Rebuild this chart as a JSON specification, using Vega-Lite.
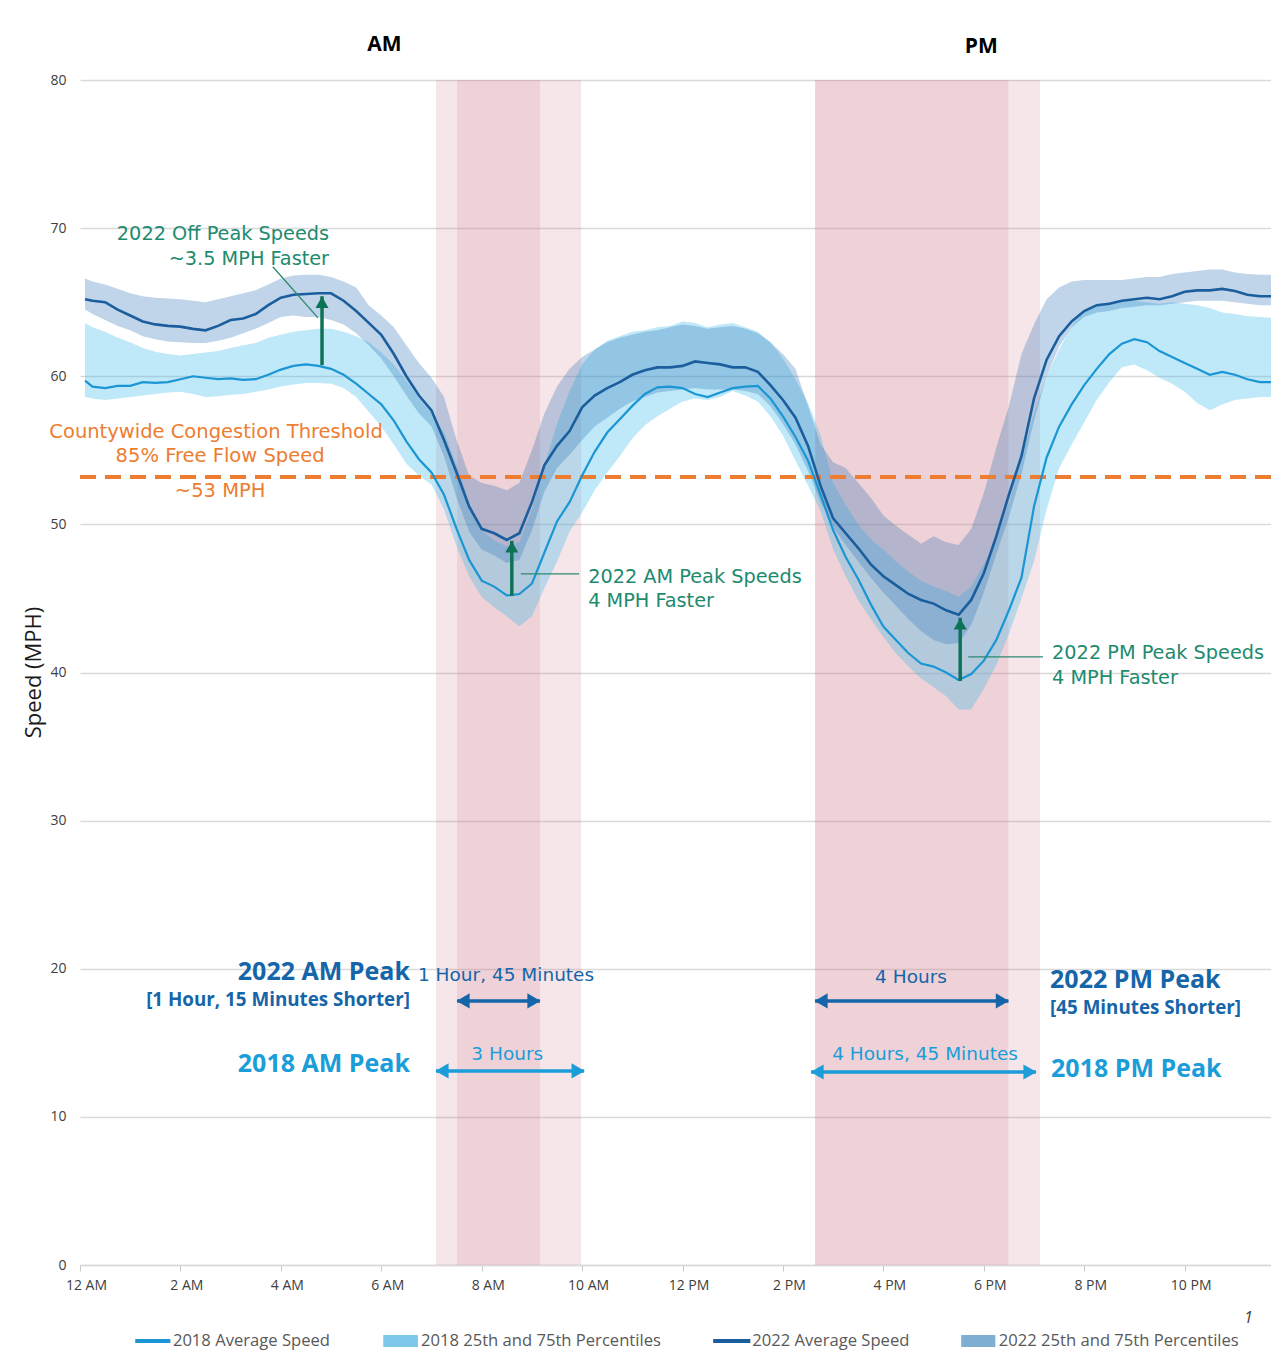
{
  "$schema": "https://vega.github.io/schema/vega-lite/v6.json",
  "width": 1191,
  "height": 1185,
  "autosize": {"type": "none"},
  "padding": {"left": 80, "top": 80, "right": 0, "bottom": 91},
  "background": "white",
  "config": {"view": {"stroke": null}, "font": "Open Sans"},
  "datasets": {
    "speed": [
      {"h":0.1,"a18":59.7,"l18":58.6,"u18":63.6,"a22":65.2,"l22":64.5,"u22":66.6},
      {"h":0.25,"a18":59.3,"l18":58.5,"u18":63.3,"a22":65.1,"l22":64.2,"u22":66.4},
      {"h":0.5,"a18":59.2,"l18":58.4,"u18":63.0,"a22":65.0,"l22":63.8,"u22":66.2},
      {"h":0.75,"a18":59.35,"l18":58.5,"u18":62.6,"a22":64.5,"l22":63.4,"u22":65.9},
      {"h":1,"a18":59.35,"l18":58.6,"u18":62.3,"a22":64.1,"l22":63.1,"u22":65.6},
      {"h":1.25,"a18":59.6,"l18":58.7,"u18":61.9,"a22":63.7,"l22":62.7,"u22":65.4},
      {"h":1.5,"a18":59.55,"l18":58.8,"u18":61.65,"a22":63.5,"l22":62.5,"u22":65.3},
      {"h":1.75,"a18":59.6,"l18":58.9,"u18":61.5,"a22":63.4,"l22":62.35,"u22":65.25},
      {"h":2,"a18":59.8,"l18":58.95,"u18":61.4,"a22":63.35,"l22":62.3,"u22":65.2},
      {"h":2.25,"a18":60.0,"l18":58.8,"u18":61.5,"a22":63.2,"l22":62.25,"u22":65.1},
      {"h":2.5,"a18":59.9,"l18":58.6,"u18":61.6,"a22":63.1,"l22":62.25,"u22":65.0},
      {"h":2.75,"a18":59.8,"l18":58.65,"u18":61.7,"a22":63.4,"l22":62.4,"u22":65.2},
      {"h":3,"a18":59.85,"l18":58.75,"u18":61.9,"a22":63.8,"l22":62.6,"u22":65.4},
      {"h":3.25,"a18":59.75,"l18":58.8,"u18":62.1,"a22":63.9,"l22":62.9,"u22":65.6},
      {"h":3.5,"a18":59.8,"l18":58.95,"u18":62.25,"a22":64.2,"l22":63.2,"u22":65.8},
      {"h":3.75,"a18":60.1,"l18":59.1,"u18":62.6,"a22":64.8,"l22":63.6,"u22":66.2},
      {"h":4,"a18":60.45,"l18":59.3,"u18":62.8,"a22":65.3,"l22":64.0,"u22":66.6},
      {"h":4.25,"a18":60.7,"l18":59.45,"u18":63.0,"a22":65.5,"l22":64.1,"u22":66.8},
      {"h":4.5,"a18":60.8,"l18":59.55,"u18":63.1,"a22":65.55,"l22":64.0,"u22":66.85},
      {"h":4.75,"a18":60.7,"l18":59.55,"u18":63.2,"a22":65.6,"l22":64.0,"u22":66.85},
      {"h":5,"a18":60.5,"l18":59.5,"u18":63.2,"a22":65.6,"l22":63.8,"u22":66.7},
      {"h":5.25,"a18":60.1,"l18":59.2,"u18":63.0,"a22":65.1,"l22":63.5,"u22":66.4},
      {"h":5.5,"a18":59.5,"l18":58.6,"u18":62.7,"a22":64.4,"l22":62.9,"u22":66.0},
      {"h":5.75,"a18":58.8,"l18":57.6,"u18":62.3,"a22":63.6,"l22":62.1,"u22":64.8},
      {"h":6,"a18":58.1,"l18":56.6,"u18":61.6,"a22":62.8,"l22":61.2,"u22":64.1},
      {"h":6.25,"a18":57.0,"l18":55.4,"u18":60.8,"a22":61.5,"l22":60.0,"u22":63.3},
      {"h":6.5,"a18":55.6,"l18":54.1,"u18":59.7,"a22":60.0,"l22":58.7,"u22":62.1},
      {"h":6.75,"a18":54.4,"l18":53.3,"u18":58.5,"a22":58.7,"l22":57.5,"u22":60.9},
      {"h":7,"a18":53.5,"l18":52.7,"u18":57.5,"a22":57.7,"l22":56.6,"u22":59.9},
      {"h":7.25,"a18":52.0,"l18":51.0,"u18":56.2,"a22":55.7,"l22":54.6,"u22":58.6},
      {"h":7.5,"a18":49.7,"l18":48.5,"u18":54.0,"a22":53.5,"l22":51.8,"u22":55.7},
      {"h":7.75,"a18":47.6,"l18":46.5,"u18":51.5,"a22":51.2,"l22":49.5,"u22":53.3},
      {"h":8,"a18":46.2,"l18":45.1,"u18":49.6,"a22":49.7,"l22":48.3,"u22":52.8},
      {"h":8.25,"a18":45.8,"l18":44.4,"u18":48.9,"a22":49.4,"l22":47.9,"u22":52.6},
      {"h":8.5,"a18":45.2,"l18":43.8,"u18":48.5,"a22":48.95,"l22":47.4,"u22":52.3},
      {"h":8.75,"a18":45.3,"l18":43.1,"u18":48.8,"a22":49.4,"l22":47.6,"u22":52.8},
      {"h":9,"a18":46.0,"l18":43.8,"u18":51.0,"a22":51.5,"l22":49.6,"u22":55.0},
      {"h":9.25,"a18":48.1,"l18":45.7,"u18":54.0,"a22":54.0,"l22":52.2,"u22":57.5},
      {"h":9.5,"a18":50.2,"l18":47.5,"u18":56.8,"a22":55.3,"l22":53.8,"u22":59.3},
      {"h":9.75,"a18":51.5,"l18":49.5,"u18":59.0,"a22":56.3,"l22":54.7,"u22":60.5},
      {"h":10,"a18":53.3,"l18":50.8,"u18":60.8,"a22":57.9,"l22":55.7,"u22":61.3},
      {"h":10.25,"a18":54.9,"l18":52.3,"u18":61.8,"a22":58.7,"l22":56.6,"u22":61.8},
      {"h":10.5,"a18":56.2,"l18":53.5,"u18":62.4,"a22":59.2,"l22":57.2,"u22":62.3},
      {"h":10.75,"a18":57.1,"l18":54.6,"u18":62.7,"a22":59.6,"l22":57.8,"u22":62.6},
      {"h":11,"a18":58.0,"l18":55.8,"u18":63.0,"a22":60.1,"l22":58.3,"u22":62.8},
      {"h":11.25,"a18":58.8,"l18":56.7,"u18":63.1,"a22":60.4,"l22":58.6,"u22":63.0},
      {"h":11.5,"a18":59.25,"l18":57.3,"u18":63.3,"a22":60.6,"l22":58.9,"u22":63.1},
      {"h":11.75,"a18":59.3,"l18":57.8,"u18":63.4,"a22":60.6,"l22":59.0,"u22":63.3},
      {"h":12,"a18":59.2,"l18":58.3,"u18":63.7,"a22":60.7,"l22":59.1,"u22":63.5},
      {"h":12.25,"a18":58.8,"l18":58.5,"u18":63.6,"a22":61.0,"l22":59.2,"u22":63.4},
      {"h":12.5,"a18":58.6,"l18":58.4,"u18":63.3,"a22":60.9,"l22":59.1,"u22":63.2},
      {"h":12.75,"a18":58.9,"l18":58.6,"u18":63.5,"a22":60.8,"l22":59.1,"u22":63.3},
      {"h":13,"a18":59.2,"l18":59.0,"u18":63.6,"a22":60.6,"l22":59.1,"u22":63.4},
      {"h":13.25,"a18":59.3,"l18":58.7,"u18":63.3,"a22":60.6,"l22":59.0,"u22":63.2},
      {"h":13.5,"a18":59.35,"l18":58.3,"u18":63.0,"a22":60.3,"l22":58.8,"u22":62.9},
      {"h":13.75,"a18":58.5,"l18":57.3,"u18":62.3,"a22":59.4,"l22":58.0,"u22":62.3},
      {"h":14,"a18":57.3,"l18":56.0,"u18":61.2,"a22":58.4,"l22":56.8,"u22":61.5},
      {"h":14.25,"a18":55.9,"l18":54.3,"u18":59.8,"a22":57.2,"l22":55.4,"u22":60.5},
      {"h":14.5,"a18":54.3,"l18":52.6,"u18":58.2,"a22":55.3,"l22":53.6,"u22":58.0},
      {"h":14.75,"a18":52.0,"l18":50.9,"u18":56.0,"a22":52.6,"l22":51.5,"u22":55.4},
      {"h":15,"a18":49.6,"l18":48.3,"u18":52.8,"a22":50.4,"l22":49.8,"u22":54.2},
      {"h":15.25,"a18":47.8,"l18":46.5,"u18":51.3,"a22":49.4,"l22":48.6,"u22":53.8},
      {"h":15.5,"a18":46.3,"l18":44.9,"u18":50.0,"a22":48.4,"l22":47.5,"u22":52.8},
      {"h":15.75,"a18":44.6,"l18":43.6,"u18":49.0,"a22":47.3,"l22":46.4,"u22":51.8},
      {"h":16,"a18":43.1,"l18":42.4,"u18":48.3,"a22":46.5,"l22":45.4,"u22":50.6},
      {"h":16.25,"a18":42.2,"l18":41.3,"u18":47.5,"a22":45.9,"l22":44.5,"u22":49.9},
      {"h":16.5,"a18":41.3,"l18":40.4,"u18":46.8,"a22":45.3,"l22":43.6,"u22":49.3},
      {"h":16.75,"a18":40.6,"l18":39.6,"u18":46.2,"a22":44.9,"l22":42.8,"u22":48.7},
      {"h":17,"a18":40.4,"l18":39.0,"u18":45.8,"a22":44.65,"l22":42.2,"u22":49.2},
      {"h":17.25,"a18":40.0,"l18":38.4,"u18":45.5,"a22":44.2,"l22":41.9,"u22":48.8},
      {"h":17.5,"a18":39.5,"l18":37.5,"u18":45.1,"a22":43.9,"l22":42.0,"u22":48.6},
      {"h":17.75,"a18":39.9,"l18":37.5,"u18":45.8,"a22":44.9,"l22":43.2,"u22":49.7},
      {"h":18,"a18":40.8,"l18":38.9,"u18":47.3,"a22":46.7,"l22":45.4,"u22":52.1},
      {"h":18.25,"a18":42.2,"l18":40.5,"u18":48.9,"a22":49.2,"l22":48.0,"u22":55.2},
      {"h":18.5,"a18":44.2,"l18":42.6,"u18":51.5,"a22":52.0,"l22":50.5,"u22":58.0},
      {"h":18.75,"a18":46.4,"l18":45.0,"u18":54.5,"a22":54.6,"l22":53.4,"u22":61.5},
      {"h":19,"a18":51.2,"l18":47.5,"u18":57.5,"a22":58.5,"l22":57.0,"u22":63.5},
      {"h":19.25,"a18":54.5,"l18":51.0,"u18":60.0,"a22":61.1,"l22":60.0,"u22":65.2},
      {"h":19.5,"a18":56.6,"l18":53.8,"u18":61.8,"a22":62.7,"l22":62.0,"u22":66.0},
      {"h":19.75,"a18":58.1,"l18":55.4,"u18":63.4,"a22":63.7,"l22":63.3,"u22":66.4},
      {"h":20,"a18":59.4,"l18":56.9,"u18":64.4,"a22":64.4,"l22":64.0,"u22":66.5},
      {"h":20.25,"a18":60.5,"l18":58.4,"u18":64.8,"a22":64.8,"l22":64.3,"u22":66.5},
      {"h":20.5,"a18":61.5,"l18":59.6,"u18":65.0,"a22":64.9,"l22":64.4,"u22":66.5},
      {"h":20.75,"a18":62.2,"l18":60.6,"u18":65.1,"a22":65.1,"l22":64.6,"u22":66.5},
      {"h":21,"a18":62.5,"l18":60.8,"u18":65.1,"a22":65.2,"l22":64.7,"u22":66.6},
      {"h":21.25,"a18":62.3,"l18":60.4,"u18":65.0,"a22":65.3,"l22":64.8,"u22":66.7},
      {"h":21.5,"a18":61.7,"l18":59.9,"u18":64.9,"a22":65.2,"l22":64.8,"u22":66.7},
      {"h":21.75,"a18":61.3,"l18":59.5,"u18":65.0,"a22":65.4,"l22":64.9,"u22":66.9},
      {"h":22,"a18":60.9,"l18":58.95,"u18":64.9,"a22":65.7,"l22":65.0,"u22":67.0},
      {"h":22.25,"a18":60.5,"l18":58.2,"u18":64.8,"a22":65.8,"l22":65.1,"u22":67.1},
      {"h":22.5,"a18":60.1,"l18":57.7,"u18":64.6,"a22":65.8,"l22":65.1,"u22":67.2},
      {"h":22.75,"a18":60.3,"l18":58.1,"u18":64.3,"a22":65.9,"l22":65.1,"u22":67.2},
      {"h":23,"a18":60.1,"l18":58.4,"u18":64.2,"a22":65.75,"l22":65.0,"u22":67.0},
      {"h":23.25,"a18":59.8,"l18":58.5,"u18":64.05,"a22":65.5,"l22":64.9,"u22":66.9},
      {"h":23.5,"a18":59.6,"l18":58.6,"u18":64.0,"a22":65.4,"l22":64.8,"u22":66.85},
      {"h":23.72,"a18":59.6,"l18":58.6,"u18":63.95,"a22":65.4,"l22":64.8,"u22":66.85}
    ],
    "bands": [
      {"peak":"2018 AM","start":7.09,"end":9.98},
      {"peak":"2022 AM","start":7.51,"end":9.16},
      {"peak":"2018 PM","start":14.64,"end":19.12},
      {"peak":"2022 PM","start":14.64,"end":18.49}
    ],
    "leaders": [
      {"h":3.84,"h2":4.74,"v":67.39,"v2":63.94},
      {"h":8.78,"h2":9.94,"v":46.66,"v2":46.66},
      {"h":17.69,"h2":19.18,"v":41.05,"v2":41.05}
    ],
    "gains": [
      {"h":4.82,"from":60.75,"to":65.4},
      {"h":8.6,"from":45.17,"to":48.89},
      {"h":17.53,"from":39.43,"to":43.69}
    ],
    "spans": [
      {"yr":"2022","start":7.51,"end":9.16,"v":17.83},
      {"yr":"2018","start":7.09,"end":10.04,"v":13.1},
      {"yr":"2022","start":14.64,"end":18.49,"v":17.83},
      {"yr":"2018","start":14.56,"end":19.04,"v":13.03}
    ],
    "notes": [
      {"text":"AM","h":6.06,"v":82.38,"kind":"header"},
      {"text":"PM","h":17.95,"v":82.24,"kind":"header"},
      {"text":"2022 Off Peak Speeds","h":4.96,"v":69.6,"kind":"greenR"},
      {"text":"~3.5 MPH Faster","h":4.96,"v":67.93,"kind":"greenR"},
      {"text":"2022 AM Peak Speeds","h":10.12,"v":46.46,"kind":"greenL"},
      {"text":"4 MPH Faster","h":10.12,"v":44.83,"kind":"greenL"},
      {"text":"2022 PM Peak Speeds","h":19.36,"v":41.32,"kind":"greenL"},
      {"text":"4 MPH Faster","h":19.36,"v":39.64,"kind":"greenL"},
      {"text":"Countywide Congestion Threshold","h":2.71,"v":56.25,"kind":"orange"},
      {"text":"85% Free Flow Speed","h":2.79,"v":54.63,"kind":"orange"},
      {"text":"~53 MPH","h":2.79,"v":52.26,"kind":"orange"},
      {"text":"2022 AM Peak","h":6.57,"v":19.78,"kind":"peak22R"},
      {"text":"2022 PM Peak","h":19.32,"v":19.24,"kind":"peak22L"},
      {"text":"[1 Hour, 15 Minutes Shorter]","h":6.57,"v":17.89,"kind":"sub22R"},
      {"text":"[45 Minutes Shorter]","h":19.32,"v":17.35,"kind":"sub22L"},
      {"text":"2018 AM Peak","h":6.57,"v":13.57,"kind":"peak18R"},
      {"text":"2018 PM Peak","h":19.34,"v":13.23,"kind":"peak18L"},
      {"text":"1 Hour, 45 Minutes","h":6.73,"v":19.58,"kind":"dur22L"},
      {"text":"4 Hours","h":16.55,"v":19.45,"kind":"dur22C"},
      {"text":"3 Hours","h":8.51,"v":14.25,"kind":"dur18C"},
      {"text":"4 Hours, 45 Minutes","h":16.83,"v":14.25,"kind":"dur18C"},
      {"text":"1","h":23.27,"v":-3.58,"kind":"foot"}
    ],
    "legend": [
      {"label":"2018 Average Speed","s0":1.1,"s1":1.8,"tx":1.85,"v":-5.13,"kind":"line18"},
      {"label":"2018 25th and 75th Percentiles","s0":6.04,"s1":6.73,"tx":6.79,"v":-5.13,"kind":"band18"},
      {"label":"2022 Average Speed","s0":12.61,"s1":13.35,"tx":13.39,"v":-5.13,"kind":"line22"},
      {"label":"2022 25th and 75th Percentiles","s0":17.55,"s1":18.23,"tx":18.3,"v":-5.13,"kind":"band22"}
    ]
  },
  "data": {"name": "speed"},
  "layer": [
    {
      "data": {"name": "bands"},
      "mark": {"type": "rect", "color": "#d28291", "opacity": 0.2},
      "encoding": {
        "x": {"field": "start", "type": "quantitative"},
        "x2": {"field": "end"},
        "y": {"datum": 0, "type": "quantitative"},
        "y2": {"datum": 80}
      }
    },
    {
      "mark": {"type": "area", "color": "#3db8ea", "opacity": 0.33},
      "encoding": {
        "x": {
          "field": "h", "type": "quantitative",
          "scale": {"domain": [0, 23.72], "nice": false, "zero": false},
          "axis": {
            "title": null,
            "values": [0, 2, 4, 6, 8, 10, 12, 14, 16, 18, 20, 22],
            "labelExpr": "datum.value == 0 ? '12 AM' : datum.value < 12 ? datum.value + ' AM' : datum.value == 12 ? '12 PM' : (datum.value - 12) + ' PM'",
            "grid": false,
            "domain": true, "domainColor": "#d9d9d9", "domainWidth": 1.5,
            "ticks": true, "tickColor": "#c8c8c8", "tickSize": 6, "tickWidth": 1,
            "labelFont": "Open Sans", "labelFontSize": 14, "labelColor": "#404040",
            "labelPadding": 7, "labelOffset": 6, "labelFlush": false, "labelOverlap": false
          }
        },
        "y": {
          "field": "l18", "type": "quantitative",
          "scale": {"domain": [0, 80], "nice": false, "zero": true},
          "axis": {
            "title": "Speed (MPH)",
            "values": [0, 10, 20, 30, 40, 50, 60, 70, 80],
            "grid": true, "gridColor": "#d9d9d9", "gridWidth": 1.5,
            "domain": false, "ticks": false,
            "labelFont": "Open Sans", "labelFontSize": 14, "labelColor": "#404040", "labelPadding": 14,
            "titleFont": "Open Sans", "titleFontSize": 22, "titleFontWeight": "normal", "titleColor": "#1a1a1a",
            "titleAngle": -90, "titleX": -47, "titleY": 592, "titleAlign": "center", "titleBaseline": "middle"
          }
        },
        "y2": {"field": "u18"}
      }
    },
    {
      "mark": {"type": "area", "color": "#2f75b5", "opacity": 0.3},
      "encoding": {
        "x": {"field": "h", "type": "quantitative"},
        "y": {"field": "l22", "type": "quantitative"},
        "y2": {"field": "u22"}
      }
    },
    {
      "mark": {"type": "rule", "color": "#ed7d31", "strokeWidth": 3, "strokeDash": [16, 9]},
      "encoding": {"y": {"datum": 53.2, "type": "quantitative"}}
    },
    {
      "mark": {"type": "line", "color": "#1b96d4", "strokeWidth": 2.2},
      "encoding": {
        "x": {"field": "h", "type": "quantitative"},
        "y": {"field": "a18", "type": "quantitative"}
      }
    },
    {
      "mark": {"type": "line", "color": "#1b5e9e", "strokeWidth": 2.6},
      "encoding": {
        "x": {"field": "h", "type": "quantitative"},
        "y": {"field": "a22", "type": "quantitative"}
      }
    },
    {
      "data": {"name": "leaders"},
      "mark": {"type": "rule", "color": "#2b8a70", "strokeWidth": 1.3},
      "encoding": {
        "x": {"field": "h", "type": "quantitative"},
        "x2": {"field": "h2"},
        "y": {"field": "v", "type": "quantitative"},
        "y2": {"field": "v2"}
      }
    },
    {
      "data": {"name": "gains"},
      "mark": {"type": "rule", "color": "#0e7356", "strokeWidth": 3.5},
      "encoding": {
        "x": {"field": "h", "type": "quantitative"},
        "y": {"field": "from", "type": "quantitative"},
        "y2": {"field": "to"}
      }
    },
    {
      "data": {"name": "gains"},
      "mark": {"type": "point", "shape": "triangle-up", "filled": true, "color": "#0e7356", "opacity": 1, "size": 170, "yOffset": 6},
      "encoding": {
        "x": {"field": "h", "type": "quantitative"},
        "y": {"field": "to", "type": "quantitative"}
      }
    },
    {
      "data": {"name": "spans"},
      "mark": {"type": "rule", "strokeWidth": 3.5},
      "encoding": {
        "x": {"field": "start", "type": "quantitative"},
        "x2": {"field": "end"},
        "y": {"field": "v", "type": "quantitative"},
        "color": {"field": "yr", "type": "nominal", "scale": {"domain": ["2018", "2022"], "range": ["#1a9dd9", "#1565a8"]}, "legend": null}
      }
    },
    {
      "data": {"name": "spans"},
      "mark": {"type": "point", "shape": "triangle-left", "filled": true, "opacity": 1, "size": 230, "xOffset": 6},
      "encoding": {
        "x": {"field": "start", "type": "quantitative"},
        "y": {"field": "v", "type": "quantitative"},
        "color": {"field": "yr", "type": "nominal", "legend": null}
      }
    },
    {
      "data": {"name": "spans"},
      "mark": {"type": "point", "shape": "triangle-right", "filled": true, "opacity": 1, "size": 230, "xOffset": -6},
      "encoding": {
        "x": {"field": "end", "type": "quantitative"},
        "y": {"field": "v", "type": "quantitative"},
        "color": {"field": "yr", "type": "nominal", "legend": null}
      }
    },
    {
      "data": {"name": "notes"},
      "transform": [{"filter": "datum.kind === 'header'"}],
      "mark": {"type": "text", "align": "center", "baseline": "middle", "fontSize": 21, "fontWeight": "bold", "color": "#000000"},
      "encoding": {"x": {"field": "h", "type": "quantitative"}, "y": {"field": "v", "type": "quantitative"}, "text": {"field": "text"}}
    },
    {
      "data": {"name": "notes"},
      "transform": [{"filter": "datum.kind === 'greenR'"}],
      "mark": {"type": "text", "align": "right", "baseline": "middle", "font": "DejaVu Sans", "fontSize": 19.3, "color": "#1e8a6e"},
      "encoding": {"x": {"field": "h", "type": "quantitative"}, "y": {"field": "v", "type": "quantitative"}, "text": {"field": "text"}}
    },
    {
      "data": {"name": "notes"},
      "transform": [{"filter": "datum.kind === 'greenL'"}],
      "mark": {"type": "text", "align": "left", "baseline": "middle", "font": "DejaVu Sans", "fontSize": 19.3, "color": "#1e8a6e"},
      "encoding": {"x": {"field": "h", "type": "quantitative"}, "y": {"field": "v", "type": "quantitative"}, "text": {"field": "text"}}
    },
    {
      "data": {"name": "notes"},
      "transform": [{"filter": "datum.kind === 'orange'"}],
      "mark": {"type": "text", "align": "center", "baseline": "middle", "font": "DejaVu Sans", "fontSize": 19.5, "color": "#ed7d31"},
      "encoding": {"x": {"field": "h", "type": "quantitative"}, "y": {"field": "v", "type": "quantitative"}, "text": {"field": "text"}}
    },
    {
      "data": {"name": "notes"},
      "transform": [{"filter": "datum.kind === 'peak22R'"}],
      "mark": {"type": "text", "align": "right", "baseline": "middle", "fontSize": 25, "fontWeight": "bold", "color": "#1565a8"},
      "encoding": {"x": {"field": "h", "type": "quantitative"}, "y": {"field": "v", "type": "quantitative"}, "text": {"field": "text"}}
    },
    {
      "data": {"name": "notes"},
      "transform": [{"filter": "datum.kind === 'peak22L'"}],
      "mark": {"type": "text", "align": "left", "baseline": "middle", "fontSize": 25, "fontWeight": "bold", "color": "#1565a8"},
      "encoding": {"x": {"field": "h", "type": "quantitative"}, "y": {"field": "v", "type": "quantitative"}, "text": {"field": "text"}}
    },
    {
      "data": {"name": "notes"},
      "transform": [{"filter": "datum.kind === 'sub22R'"}],
      "mark": {"type": "text", "align": "right", "baseline": "middle", "fontSize": 18.8, "fontWeight": "bold", "color": "#1565a8"},
      "encoding": {"x": {"field": "h", "type": "quantitative"}, "y": {"field": "v", "type": "quantitative"}, "text": {"field": "text"}}
    },
    {
      "data": {"name": "notes"},
      "transform": [{"filter": "datum.kind === 'sub22L'"}],
      "mark": {"type": "text", "align": "left", "baseline": "middle", "fontSize": 18.8, "fontWeight": "bold", "color": "#1565a8"},
      "encoding": {"x": {"field": "h", "type": "quantitative"}, "y": {"field": "v", "type": "quantitative"}, "text": {"field": "text"}}
    },
    {
      "data": {"name": "notes"},
      "transform": [{"filter": "datum.kind === 'peak18R'"}],
      "mark": {"type": "text", "align": "right", "baseline": "middle", "fontSize": 25, "fontWeight": "bold", "color": "#1a9dd9"},
      "encoding": {"x": {"field": "h", "type": "quantitative"}, "y": {"field": "v", "type": "quantitative"}, "text": {"field": "text"}}
    },
    {
      "data": {"name": "notes"},
      "transform": [{"filter": "datum.kind === 'peak18L'"}],
      "mark": {"type": "text", "align": "left", "baseline": "middle", "fontSize": 25, "fontWeight": "bold", "color": "#1a9dd9"},
      "encoding": {"x": {"field": "h", "type": "quantitative"}, "y": {"field": "v", "type": "quantitative"}, "text": {"field": "text"}}
    },
    {
      "data": {"name": "notes"},
      "transform": [{"filter": "datum.kind === 'dur22L'"}],
      "mark": {"type": "text", "align": "left", "baseline": "middle", "font": "DejaVu Sans", "fontSize": 18.5, "color": "#1565a8"},
      "encoding": {"x": {"field": "h", "type": "quantitative"}, "y": {"field": "v", "type": "quantitative"}, "text": {"field": "text"}}
    },
    {
      "data": {"name": "notes"},
      "transform": [{"filter": "datum.kind === 'dur22C'"}],
      "mark": {"type": "text", "align": "center", "baseline": "middle", "font": "DejaVu Sans", "fontSize": 18.5, "color": "#1565a8"},
      "encoding": {"x": {"field": "h", "type": "quantitative"}, "y": {"field": "v", "type": "quantitative"}, "text": {"field": "text"}}
    },
    {
      "data": {"name": "notes"},
      "transform": [{"filter": "datum.kind === 'dur18C'"}],
      "mark": {"type": "text", "align": "center", "baseline": "middle", "font": "DejaVu Sans", "fontSize": 18.5, "color": "#1a9dd9"},
      "encoding": {"x": {"field": "h", "type": "quantitative"}, "y": {"field": "v", "type": "quantitative"}, "text": {"field": "text"}}
    },
    {
      "data": {"name": "notes"},
      "transform": [{"filter": "datum.kind === 'foot'"}],
      "mark": {"type": "text", "align": "center", "baseline": "middle", "fontSize": 16, "fontStyle": "italic", "color": "#404040"},
      "encoding": {"x": {"field": "h", "type": "quantitative"}, "y": {"field": "v", "type": "quantitative"}, "text": {"field": "text"}}
    },
    {
      "data": {"name": "legend"},
      "transform": [{"filter": "datum.kind === 'line18'"}],
      "mark": {"type": "rule", "color": "#1b96d4", "strokeWidth": 4},
      "encoding": {"x": {"field": "s0", "type": "quantitative"}, "x2": {"field": "s1"}, "y": {"field": "v", "type": "quantitative"}}
    },
    {
      "data": {"name": "legend"},
      "transform": [{"filter": "datum.kind === 'line22'"}],
      "mark": {"type": "rule", "color": "#1b5e9e", "strokeWidth": 4},
      "encoding": {"x": {"field": "s0", "type": "quantitative"}, "x2": {"field": "s1"}, "y": {"field": "v", "type": "quantitative"}}
    },
    {
      "data": {"name": "legend"},
      "transform": [{"filter": "datum.kind === 'band18'"}],
      "mark": {"type": "rule", "color": "#7dc8eb", "strokeWidth": 12},
      "encoding": {"x": {"field": "s0", "type": "quantitative"}, "x2": {"field": "s1"}, "y": {"field": "v", "type": "quantitative"}}
    },
    {
      "data": {"name": "legend"},
      "transform": [{"filter": "datum.kind === 'band22'"}],
      "mark": {"type": "rule", "color": "#7faed3", "strokeWidth": 12},
      "encoding": {"x": {"field": "s0", "type": "quantitative"}, "x2": {"field": "s1"}, "y": {"field": "v", "type": "quantitative"}}
    },
    {
      "data": {"name": "legend"},
      "mark": {"type": "text", "align": "left", "baseline": "middle", "fontSize": 16.6, "color": "#595959"},
      "encoding": {"x": {"field": "tx", "type": "quantitative"}, "y": {"field": "v", "type": "quantitative"}, "text": {"field": "label"}}
    }
  ]
}
